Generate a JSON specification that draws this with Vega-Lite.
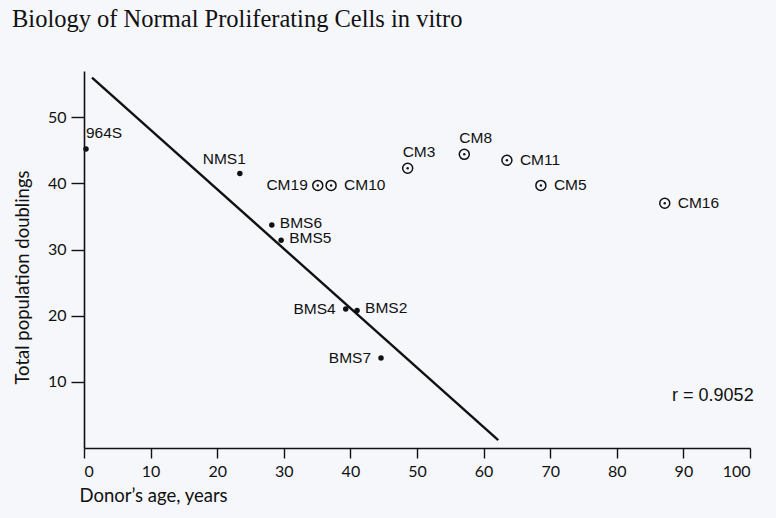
{
  "$schema": "https://vega.github.io/schema/vega-lite/v6.json",
  "autosize": {"type": "none"},
  "width": 666,
  "height": 377,
  "padding": {"left": 84, "top": 71, "right": 26, "bottom": 70},
  "background": "#f5f7fb",
  "title": {
    "text": "Biology of Normal Proliferating Cells in vitro",
    "anchor": "start",
    "frame": "group",
    "dx": -72,
    "offset": 20,
    "baseline": "alphabetic",
    "font": "Liberation Serif",
    "fontSize": 24.5,
    "fontWeight": "normal",
    "color": "#111111"
  },
  "config": {
    "view": {"stroke": null},
    "axis": {
      "grid": false,
      "domainColor": "#111111",
      "domainWidth": 1.6,
      "tickColor": "#111111",
      "tickWidth": 1.4,
      "labelFont": "Lato",
      "labelFontSize": 16,
      "labelColor": "#111111",
      "titleFont": "Lato",
      "titleFontSize": 18.5,
      "titleFontWeight": "normal",
      "titleColor": "#111111"
    }
  },
  "datasets": {
    "points": [
      {"name": "964S", "age": 0.3, "doublings": 45.2, "group": "BMS"},
      {"name": "NMS1", "age": 23.4, "doublings": 41.5, "group": "BMS"},
      {"name": "CM19", "age": 35.1, "doublings": 39.7, "group": "CM"},
      {"name": "CM10", "age": 37.1, "doublings": 39.7, "group": "CM"},
      {"name": "CM3", "age": 48.6, "doublings": 42.3, "group": "CM"},
      {"name": "CM8", "age": 57.1, "doublings": 44.4, "group": "CM"},
      {"name": "CM11", "age": 63.5, "doublings": 43.5, "group": "CM"},
      {"name": "CM5", "age": 68.6, "doublings": 39.7, "group": "CM"},
      {"name": "CM16", "age": 87.2, "doublings": 37.0, "group": "CM"},
      {"name": "BMS6", "age": 28.2, "doublings": 33.7, "group": "BMS"},
      {"name": "BMS5", "age": 29.6, "doublings": 31.4, "group": "BMS"},
      {"name": "BMS4", "age": 39.3, "doublings": 21.0, "group": "BMS"},
      {"name": "BMS2", "age": 41.0, "doublings": 20.8, "group": "BMS"},
      {"name": "BMS7", "age": 44.6, "doublings": 13.6, "group": "BMS"}
    ],
    "fit": [
      {"age": 1.2, "doublings": 56.0},
      {"age": 62.2, "doublings": 1.2}
    ],
    "annot": [
      {"label": "r = 0.9052", "age": 88.3, "doublings": 7.8}
    ]
  },
  "encoding": {
    "x": {
      "field": "age", "type": "quantitative",
      "scale": {"domain": [0, 100], "nice": false, "zero": false},
      "axis": {
        "values": [0, 10, 20, 30, 40, 50, 60, 70, 80, 90, 100],
        "tickSize": 10,
        "labelPadding": 5,
        "title": "Donor\u2019s age, years",
        "titleX": -5,
        "titleY": 47,
        "titleAlign": "left",
        "titleBaseline": "middle"
      }
    },
    "y": {
      "field": "doublings", "type": "quantitative",
      "scale": {"domain": [0, 57], "nice": false, "zero": false},
      "axis": {
        "values": [10, 20, 30, 40, 50],
        "tickSize": 13,
        "labelPadding": 5,
        "title": "Total population doublings",
        "titleX": -62,
        "titleY": 206,
        "titleAngle": -90,
        "titleAlign": "center",
        "titleBaseline": "middle"
      }
    }
  },
  "layer": [
    {
      "data": {"name": "fit"},
      "mark": {"type": "line", "color": "#111111", "strokeWidth": 2.4},
      "encoding": {}
    },
    {
      "data": {"name": "points"},
      "transform": [{"filter": "datum.group === 'BMS'"}],
      "mark": {"type": "point", "shape": "circle", "filled": true, "color": "#111111", "size": 30, "opacity": 1}
    },
    {
      "data": {"name": "points"},
      "transform": [{"filter": "datum.group === 'CM'"}],
      "mark": {"type": "point", "shape": "circle", "filled": false, "color": "#111111", "size": 100, "strokeWidth": 1.5, "opacity": 1}
    },
    {
      "data": {"name": "points"},
      "transform": [{"filter": "datum.group === 'CM'"}],
      "mark": {"type": "point", "shape": "circle", "filled": true, "color": "#111111", "size": 6, "opacity": 1}
    },
    {
      "data": {"name": "points"},
      "transform": [{"filter": "datum.name === '964S'"}],
      "mark": {"type": "text", "align": "left", "baseline": "middle", "dx": 0, "dy": -16, "font": "Liberation Sans", "fontSize": 15.5, "color": "#111111"},
      "encoding": {"text": {"field": "name"}}
    },
    {
      "data": {"name": "points"},
      "transform": [{"filter": "indexof(['CM3','CM8'], datum.name) >= 0"}],
      "mark": {"type": "text", "align": "left", "baseline": "middle", "dx": -5, "dy": -16, "font": "Liberation Sans", "fontSize": 15.5, "color": "#111111"},
      "encoding": {"text": {"field": "name"}}
    },
    {
      "data": {"name": "points"},
      "transform": [{"filter": "datum.name === 'NMS1'"}],
      "mark": {"type": "text", "align": "right", "baseline": "middle", "dx": 6, "dy": -15, "font": "Liberation Sans", "fontSize": 15.5, "color": "#111111"},
      "encoding": {"text": {"field": "name"}}
    },
    {
      "data": {"name": "points"},
      "transform": [{"filter": "indexof(['CM10','CM11','CM5','CM16'], datum.name) >= 0"}],
      "mark": {"type": "text", "align": "left", "baseline": "middle", "dx": 13, "dy": 0, "font": "Liberation Sans", "fontSize": 15.5, "color": "#111111"},
      "encoding": {"text": {"field": "name"}}
    },
    {
      "data": {"name": "points"},
      "transform": [{"filter": "indexof(['BMS6','BMS5','BMS2'], datum.name) >= 0"}],
      "mark": {"type": "text", "align": "left", "baseline": "middle", "dx": 8, "dy": -2, "font": "Liberation Sans", "fontSize": 15.5, "color": "#111111"},
      "encoding": {"text": {"field": "name"}}
    },
    {
      "data": {"name": "points"},
      "transform": [{"filter": "indexof(['CM19','BMS4','BMS7'], datum.name) >= 0"}],
      "mark": {"type": "text", "align": "right", "baseline": "middle", "dx": -10, "dy": 0, "font": "Liberation Sans", "fontSize": 15.5, "color": "#111111"},
      "encoding": {"text": {"field": "name"}}
    },
    {
      "data": {"name": "annot"},
      "mark": {"type": "text", "align": "left", "baseline": "middle", "font": "Liberation Sans", "fontSize": 18, "color": "#111111"},
      "encoding": {"text": {"field": "label"}}
    }
  ]
}
